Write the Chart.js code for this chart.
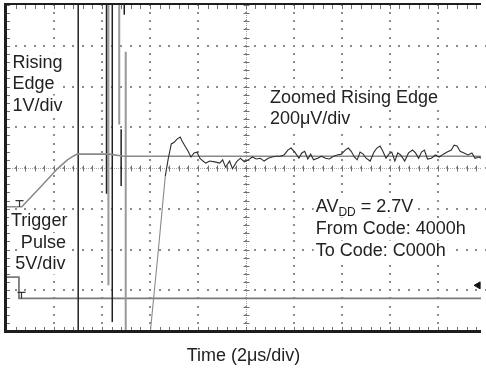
<!DOCTYPE html>
<html>
<head>
<meta charset="utf-8">
<script src="https://cdn.jsdelivr.net/npm/chart.js@4"></script>
<style>
  html, body { margin: 0; padding: 0; background: #fff; }
  canvas { display: block; }
</style>
</head>
<body>
<canvas id="scope" width="486" height="370"></canvas>
<script>
// time axis in us (2 us/div), vertical axis in screen divisions (8 div high)
const edgeTime = [0, 0.66, 1.40, 2.14, 2.56, 2.80, 2.97, 4.29, 4.91, 19.8];
const edgeLevel = [3.05, 3.05, 3.51, 3.98, 4.20, 4.29, 4.34, 4.34, 4.29, 4.29];

const pulseTime = [0, 0.54, 0.54, 19.8];
const pulseLevel = [1.32, 1.32, 0.80, 0.80];

const zoomTime = [
  6.02, 6.35, 6.64, 6.76, 6.89, 7.01, 7.13, 7.26, 7.34, 7.46,
  7.59, 7.71, 7.84, 7.96, 8.08, 8.21, 8.33, 8.49, 8.70, 8.91,
  9.03, 9.15, 9.32, 9.44, 9.61, 9.77, 9.94, 10.10, 10.27, 10.43,
  10.60, 10.76, 10.93, 11.09, 11.26, 11.42, 11.59, 11.75, 11.88, 12.04,
  12.21, 12.33, 12.45, 12.58, 12.70, 12.82, 12.99, 13.15, 13.32, 13.48,
  13.65, 13.81, 13.98, 14.14, 14.27, 14.39, 14.52, 14.64, 14.76, 14.89,
  15.01, 15.18, 15.34, 15.46, 15.59, 15.71, 15.84, 15.96, 16.08, 16.21,
  16.33, 16.45, 16.62, 16.78, 16.95, 17.07, 17.20, 17.32, 17.44, 17.57,
  17.73, 17.90, 18.06, 18.23, 18.39, 18.56, 18.68, 18.80, 18.93, 19.09,
  19.26, 19.42, 19.55, 19.71, 19.80
];
const zoomLevel = [
  0, 1.98, 3.80, 4.22, 4.59, 4.63, 4.71, 4.76, 4.66, 4.54,
  4.41, 4.27, 4.37, 4.39, 4.24, 4.17, 4.12, 4.17, 4.15, 4.12,
  4.20, 4.02, 4.17, 3.98, 4.15, 4.24, 4.15, 4.20, 4.27, 4.22,
  4.24, 4.17, 4.24, 4.27, 4.29, 4.29, 4.32, 4.44, 4.49, 4.39,
  4.24, 4.37, 4.41, 4.22, 4.34, 4.20, 4.24, 4.29, 4.24, 4.22,
  4.29, 4.32, 4.34, 4.44, 4.49, 4.41, 4.27, 4.20, 4.39, 4.34,
  4.24, 4.17, 4.39, 4.49, 4.54, 4.41, 4.24, 4.34, 4.39, 4.17,
  4.37, 4.32, 4.17, 4.37, 4.44, 4.37, 4.24, 4.39, 4.44, 4.22,
  4.24, 4.32, 4.27, 4.34, 4.39, 4.44, 4.56, 4.54, 4.41, 4.37,
  4.32, 4.37, 4.24, 4.27, 4.24
];

// glitch lines on the 1V/div trace around the code change
const darkSpikeTime = [3.01, 4.19, 4.43, 4.80, 4.93];
const darkSpikeTop = [8, 8, 8, 4.95, 8];
const darkSpikeBottom = [0, 3.37, 0.22, 3.56, 7.76];

const graySpikeTime = [4.27, 4.72, 4.99];
const graySpikeTop = [8, 8, 6.85];
const graySpikeBottom = [1.12, 5.07, 0];

// trigger level markers (T) and ground reference arrow
const triggerTime = [0.54, 0.62];
const triggerLevel = [3.05, 0.80];
const refMarkTime = [19.68];
const refMarkLevel = [1.12];

const xy = (xs, ys) => xs.map((x, i) => ({x, y: ys[i]}));

function spikes(times, tops, bottoms) {
  const pts = [];
  times.forEach((t, i) => {
    pts.push({x: t, y: tops[i]}, {x: t, y: bottoms[i]}, {x: t, y: null});
  });
  return pts;
}

const FONT = '"Liberation Sans", Arial, Helvetica, sans-serif';

const notes = [
  {parts: [['Rising']], x: 0.27, y: 6.45},
  {parts: [['Edge']], x: 0.27, y: 5.94},
  {parts: [['1V/div']], x: 0.27, y: 5.41},
  {parts: [['Zoomed Rising Edge']], x: 11.0, y: 5.6},
  {parts: [['200μV/div']], x: 11.0, y: 5.09},
  {parts: [['Trigger']], x: 0.21, y: 2.57},
  {parts: [['Pulse']], x: 0.62, y: 2.04},
  {parts: [['5V/div']], x: 0.39, y: 1.51},
  {parts: [['AV'], ['DD', true], [' = 2.7V']], x: 12.91, y: 2.91},
  {parts: [['From Code: 4000h']], x: 12.91, y: 2.37},
  {parts: [['To Code: C000h']], x: 12.91, y: 1.85}
];

const graticule = {
  id: 'graticule',
  beforeDatasetsDraw(chart) {
    const {ctx, chartArea: a, scales: {x, y}} = chart;
    const xs = [];
    for (let i = 0; i <= 50; i++) xs.push(Math.round(x.getPixelForValue(i * 0.4)));
    const ys = [];
    for (let j = 0; j <= 40; j++) ys.push(Math.round(y.getPixelForValue(j * 0.2)));
    const line = (x0, y0, x1, y1) => {
      ctx.beginPath();
      ctx.moveTo(x0, y0);
      ctx.lineTo(x1, y1);
      ctx.stroke();
    };
    ctx.save();
    ctx.fillStyle = '#8c8c8c';
    for (let i = 5; i < 50; i += 5) {
      ys.forEach(py => ctx.fillRect(xs[i] - 1, py - 1, 2, 2));
    }
    for (let j = 5; j < 40; j += 5) {
      xs.forEach(px => ctx.fillRect(px - 1, ys[j] - 1, 2, 2));
    }
    const cx = xs[25] + 0.5;
    const cy = ys[20] + 0.5;
    ctx.lineWidth = 1;
    ctx.strokeStyle = '#a8a8a8';
    ctx.setLineDash([1, 1]);
    line(cx, a.top, cx, a.bottom);
    line(a.left, cy, a.right, cy);
    ctx.setLineDash([]);
    ctx.strokeStyle = '#707070';
    xs.forEach(px => line(px + 0.5, cy - 3, px + 0.5, cy + 3));
    ys.forEach(py => line(cx - 3, py + 0.5, cx + 3, py + 0.5));
    xs.forEach(px => {
      line(px + 0.5, a.top, px + 0.5, a.top + 4);
      line(px + 0.5, a.bottom - 4, px + 0.5, a.bottom);
    });
    ys.forEach(py => line(a.left, py + 0.5, a.left + 4, py + 0.5));

    // annotations sit on a clear patch of screen, traces stay on top
    ctx.textBaseline = 'alphabetic';
    ctx.textAlign = 'left';
    notes.forEach(n => {
      const x0 = x.getPixelForValue(n.x);
      const py = y.getPixelForValue(n.y);
      let px = x0;
      n.parts.forEach(([text, sub]) => {
        ctx.font = (sub ? '12px ' : '18px ') + FONT;
        px += ctx.measureText(text).width;
      });
      ctx.fillStyle = '#fff';
      ctx.fillRect(x0 - 2, py - 15, px - x0 + 4, 20);
      px = x0;
      ctx.fillStyle = '#222';
      n.parts.forEach(([text, sub]) => {
        ctx.font = (sub ? '12px ' : '18px ') + FONT;
        ctx.fillText(text, px, sub ? py + 4 : py);
        px += ctx.measureText(text).width;
      });
    });
    ctx.restore();
  },
  afterDatasetsDraw(chart) {
    const {ctx, chartArea: a, scales: {x, y}} = chart;
    ctx.save();
    // frame: left, top and bottom edges (right edge is off screen)
    ctx.fillStyle = '#1e1e1e';
    ctx.fillRect(a.left - 2, a.top - 2, 3, a.bottom - a.top + 4);
    ctx.fillRect(a.left - 2, a.top - 2, a.right - a.left + 2, 2);
    ctx.fillRect(a.left - 2, a.bottom - 1, a.right - a.left + 2, 3);

    // trigger level markers
    ctx.strokeStyle = '#333';
    ctx.lineWidth = 1.2;
    triggerTime.forEach((t, i) => {
      const px = Math.round(x.getPixelForValue(t)) + 0.5;
      const py = y.getPixelForValue(triggerLevel[i]);
      ctx.beginPath();
      ctx.moveTo(px, py);
      ctx.lineTo(px, py - 6);
      ctx.moveTo(px - 4, py - 6);
      ctx.lineTo(px + 4, py - 6);
      ctx.stroke();
    });
    ctx.restore();
  }
};

new Chart(document.getElementById('scope'), {
  type: 'line',
  data: {
    datasets: [
      {
        data: xy(zoomTime, zoomLevel),
        borderColor: '#2e2e2e',
        borderWidth: 1.1,
        segment: {
          borderColor: c => (Math.abs(c.p1.y - c.p0.y) > 40 ? '#8a8a8a' : '#2e2e2e')
        }
      },
      {
        data: xy(edgeTime, edgeLevel),
        borderColor: '#8a8a8a',
        borderWidth: 1.6
      },
      {
        data: spikes(darkSpikeTime, darkSpikeTop, darkSpikeBottom),
        borderColor: '#222',
        borderWidth: 1.5,
        spanGaps: false
      },
      {
        data: spikes(graySpikeTime, graySpikeTop, graySpikeBottom),
        borderColor: '#999',
        borderWidth: 2,
        spanGaps: false
      },
      {
        data: xy(pulseTime, pulseLevel),
        borderColor: '#7a7a7a',
        borderWidth: 1.8
      },
      {
        type: 'scatter',
        data: xy(refMarkTime, refMarkLevel),
        pointStyle: 'triangle',
        rotation: -90,
        radius: 4,
        backgroundColor: '#111',
        borderColor: '#111',
        borderWidth: 1,
        clip: false
      }
    ]
  },
  options: {
    responsive: false,
    devicePixelRatio: 1,
    animation: false,
    events: [],
    elements: {
      point: {radius: 0},
      line: {tension: 0, fill: false}
    },
    layout: {padding: {left: 6, top: 3, right: 0, bottom: 0}},
    plugins: {
      legend: {display: false},
      tooltip: {enabled: false}
    },
    scales: {
      x: {
        type: 'linear',
        min: 0,
        max: 19.8,
        grid: {display: false, drawTicks: false},
        border: {display: false},
        ticks: {display: false},
        title: {
          display: true,
          text: 'Time (2μs/div)',
          color: '#222',
          font: {family: FONT, size: 18},
          padding: {top: 14.2, bottom: 3.2}
        }
      },
      y: {
        type: 'linear',
        min: 0,
        max: 8,
        display: false
      }
    }
  },
  plugins: [graticule]
});
</script>
</body>
</html>
